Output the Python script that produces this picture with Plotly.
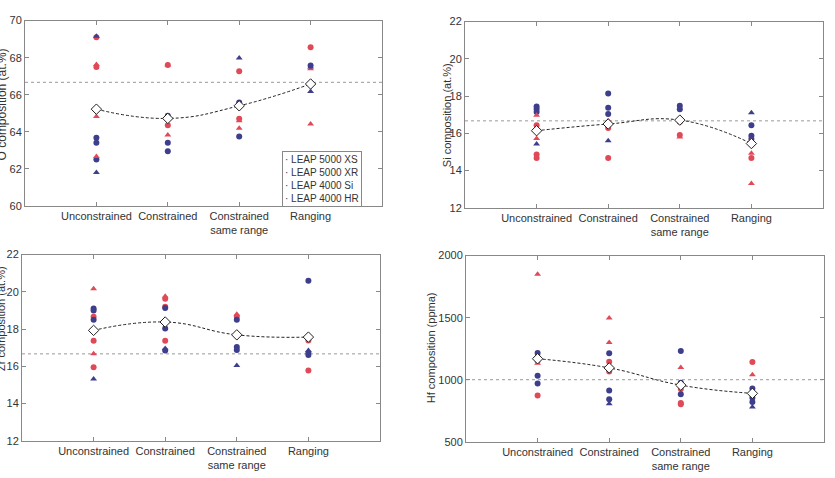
import plotly.graph_objects as go

categories = ["Unconstrained", "Constrained", "Constrained<br>same range", "Ranging"]
instruments = ["LEAP 5000 XS", "LEAP 5000 XR", "LEAP 4000 Si", "LEAP 4000 HR"]

# values per category (Unconstrained, Constrained, Constrained same range, Ranging)
o_xs = [[69.1, 67.5], [67.6, 64.35], [67.26, 64.7], [68.56]]
o_xr = [[63.68, 63.4, 62.5], [64.86, 63.4, 62.95], [65.58, 65.44, 63.75], [67.58]]
o_si = [[67.63, 64.82, 62.67], [67.6, 63.82], [64.6, 64.19], [67.4, 64.42]]
o_hr = [[69.15, 61.8], [], [67.98], [67.5, 66.18]]
o_mean = [65.22, 64.72, 65.4, 66.58]

si_xs = [[16.43, 14.86, 14.67], [16.4, 16.28, 14.67], [16.62, 15.91], [14.67]]
si_xr = [[17.44, 17.3, 17.15], [18.14, 17.38, 17.04], [17.48, 17.29, 16.65], [16.43, 15.87, 15.7]]
si_si = [[16.97, 15.72], [16.68], [16.8, 15.8], [14.93, 13.3, 15.61]]
si_hr = [[15.42], [15.6], [], [17.11]]
si_mean = [16.14, 16.5, 16.71, 15.45]

zr_xs = [[18.66, 17.37, 15.95], [19.63, 19.2, 17.37], [18.68], [17.39, 15.77]]
zr_xr = [[19.1, 19.0, 18.5], [19.13, 18.03, 16.85], [18.5, 17.04, 16.87], [20.59, 16.73, 16.61]]
zr_si = [[20.17, 16.68], [19.76], [18.8], []]
zr_hr = [[15.32], [16.96], [16.05], [16.85]]
zr_mean = [17.93, 18.38, 17.69, 17.57]

hf_xs = [[1153, 872], [1145, 1066], [925, 812, 802], [1142]]
hf_xr = [[1216, 1179, 1032, 969], [1213, 914, 843], [1232, 975, 883], [930, 854, 820]]
hf_si = [[1850, 1132], [1497, 1300], [1098], [1040]]
hf_hr = [[], [807], [], [781]]
hf_mean = [1169, 1095, 956, 890]

nominal = [66.67, 16.67, 16.67, 1000]
y_titles = ["O composition (at.%)", "Si composition (at.%)", "Zr composition (at.%)", "Hf composition (ppma)"]
y_ranges = [[60, 70], [12, 22], [12, 22], [500, 2000]]
y_dticks = [2, 2, 2, 500]

panels = [
    [o_xs, o_xr, o_si, o_hr, o_mean],
    [si_xs, si_xr, si_si, si_hr, si_mean],
    [zr_xs, zr_xr, zr_si, zr_hr, zr_mean],
    [hf_xs, hf_xr, hf_si, hf_hr, hf_mean],
]

RED = "#e04a58"
BLUE = "#3d3e8c"
styles = [(RED, "circle"), (BLUE, "circle"), (RED, "triangle-up"), (BLUE, "triangle-up")]

W, H = 835, 478
# pixel boxes of the four axes (left, right, top, bottom)
boxes = [(25, 382, 15, 205), (465, 823, 16, 207), (22, 380, 255, 446), (466, 824, 256, 447)]
ylabel_pos = [(2, 101, 12), (447, 112, 11), (1, 321, 11), (431, 351, 11)]

fig = go.Figure()
layout = dict(
    width=W, height=H, margin=dict(l=0, r=0, t=0, b=0),
    paper_bgcolor="white", plot_bgcolor="white", showlegend=False,
    font=dict(family="Liberation Sans, Arial, sans-serif", size=11, color="#333333"),
)
annotations = []
shapes = []

for p, (data, box) in enumerate(zip(panels, boxes)):
    sfx = "" if p == 0 else str(p + 1)
    xa, ya = "x" + sfx, "y" + sfx
    l, r, t, b = box
    for inst, (color, sym), series in zip(instruments, styles, data[:4]):
        xs = [categories[i] for i, vals in enumerate(series) for v in vals]
        ys = [v for vals in series for v in vals]
        fig.add_trace(go.Scatter(
            x=xs, y=ys, mode="markers", name=inst, xaxis=xa, yaxis=ya,
            marker=dict(color=color, symbol=sym, size=6, line=dict(width=0)),
        ))
    fig.add_trace(go.Scatter(
        x=categories, y=data[4], mode="lines+markers", name="mean",
        xaxis=xa, yaxis=ya,
        line=dict(color="#222222", width=1, dash="3px,2px", shape="spline", smoothing=1.3),
        marker=dict(symbol="diamond", size=8, color="white", line=dict(color="#222222", width=1)),
    ))
    shapes.append(dict(type="line", xref=xa + " domain", yref=ya, x0=0, x1=1,
                       y0=nominal[p], y1=nominal[p],
                       line=dict(color="#999999", width=1, dash="dot"), layer="below"))
    layout["xaxis" + sfx] = dict(
        domain=[l / W, r / W], anchor=ya, type="category",
        categoryorder="array", categoryarray=categories, range=[-1, 4],
        showline=True, linecolor="#888888", linewidth=1, mirror="allticks",
        ticks="inside", ticklen=4, tickcolor="#888888", showgrid=False, zeroline=False,
        tickfont=dict(size=11, color="#333333"),
    )
    layout["yaxis" + sfx] = dict(
        domain=[1 - b / H, 1 - t / H], anchor=xa, range=y_ranges[p], dtick=y_dticks[p],
        showline=True, linecolor="#888888", linewidth=1, mirror="allticks",
        ticks="inside", ticklen=4, tickcolor="#888888", showgrid=False, zeroline=False,
        tickfont=dict(size=11, color="#333333"),
    )
    lx, ly, lsize = ylabel_pos[p]
    annotations.append(dict(
        text=y_titles[p], xref="paper", yref="paper", x=lx / W,
        y=1 - ly / H, xanchor="center", yanchor="middle", textangle=-90,
        showarrow=False, font=dict(size=lsize, color="#333333"),
    ))

legend_text = "<br>".join("· " + name for name in instruments)
annotations.append(dict(
    text=legend_text, xref="paper", yref="paper", x=282 / W, y=1 - 149 / H,
    xanchor="left", yanchor="top", align="left", showarrow=False,
    bordercolor="#888888", borderwidth=1, borderpad=2, bgcolor="white",
    font=dict(size=10, color="#333333"),
))

layout["annotations"] = annotations
layout["shapes"] = shapes
fig.update_layout(**layout)
fig.write_html("out.html")
